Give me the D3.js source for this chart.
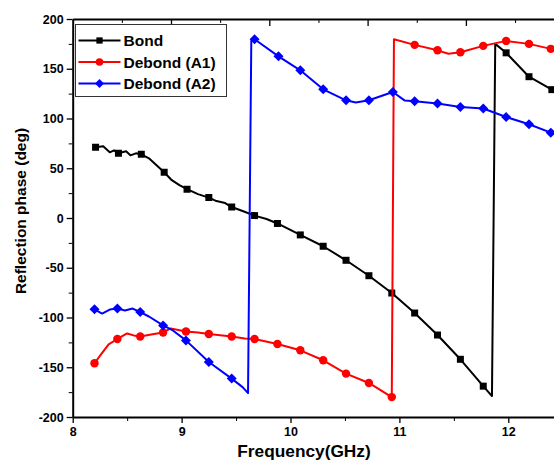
<!DOCTYPE html>
<html>
<head>
<meta charset="utf-8">
<script src="https://cdn.jsdelivr.net/npm/d3@7"></script>
<style>
  body { margin: 0; background: #fff; }
  svg { display: block; font-family: "Liberation Sans", Arial, sans-serif; }
</style>
</head>
<body>
<div class="chart"></div>
<script>
// series: marker points and extra line points (GHz, deg)
const bondMarks = [[8.21,71],[8.42,65],[8.63,64],[8.84,46],[9.05,29],[9.25,20.5],[9.46,11],[9.67,2.4],
  [9.88,-5.5],[10.09,-17],[10.30,-28.4],[10.51,-42.5],[10.72,-58],[10.93,-75.4],[11.14,-95.5],
  [11.35,-117.6],[11.56,-142],[11.77,-169],[11.98,166],[12.19,142],[12.40,129]];
const bondExtra = [[8.28,72],[8.34,66],[8.38,68],[8.49,67],[8.53,63],[8.58,65],[8.70,60],[8.77,53],
  [8.91,38],[8.98,33],[9.15,24],[9.32,17],[9.40,15],[9.56,7],[9.78,-1],[11.85,-179],[11.88,175],[12.5,124]];

const a1Marks = [[8.20,-146],[8.41,-121.6],[8.62,-119],[8.83,-115],[9.04,-114],[9.25,-116.5],[9.46,-119],
  [9.67,-121.6],[9.88,-126.6],[10.09,-133],[10.30,-143],[10.51,-156.4],[10.72,-165.8],[10.93,-180],
  [11.14,174],[11.35,168.5],[11.56,166.5],[11.77,173],[11.98,178],[12.19,175],[12.39,170]];
const a1Extra = [[8.26,-137],[8.33,-127],[8.50,-116],[8.56,-118],[8.72,-117],[8.90,-111],[9.15,-115],
  [9.58,-121],[10.95,179.6],[11.45,165],[12.5,169]];

const a2Marks = [[8.20,-91.8],[8.41,-91],[8.62,-94.5],[8.83,-108],[9.04,-123],[9.25,-144.7],[9.46,-161.4],
  [9.67,179.6],[9.89,162.5],[10.09,148.4],[10.30,129.3],[10.51,118.3],[10.72,118.3],[10.94,126.6],
  [11.14,117.3],[11.35,115],[11.56,111.6],[11.77,110],[11.98,101.5],[12.19,94.2],[12.39,85.8]];
const a2Extra = [[8.27,-96],[8.34,-92],[8.48,-93],[8.55,-91],[8.70,-99],[8.92,-113],[9.56,-170],
  [9.61,-176],[9.64,178],[10.60,116],[11.05,118],[12.5,83]];

const seriesNames = ['Bond', 'Debond (A1)', 'Debond (A2)'];
const seriesColors = ['#000000', '#ff0000', '#0000ff'];
const xTicks = [8, 9, 10, 11, 12];
const yTicks = [-200, -150, -100, -50, 0, 50, 100, 150, 200];

const width = 554, height = 462;
const margin = {top: 19, right: 0, bottom: 45, left: 72.7};

const svg = d3.select('.chart')
  .append('svg')
  .attr('width', width)
  .attr('height', height);

const scaleX = d3.scaleLinear()
  .domain([8, 8 + (width - margin.left) / 108.9])
  .range([margin.left, width]);

const scaleY = d3.scaleLinear()
  .domain([-200, 200])
  .range([height - margin.bottom, margin.top]);

// the top axis in the original has its own spacing
const scaleTop = d3.scaleLinear()
  .domain([0, (width - margin.left) / 98.3])
  .range([margin.left, width]);

svg.append('clipPath').attr('id', 'plot')
  .append('rect')
  .attr('x', margin.left).attr('y', 0)
  .attr('width', width - margin.left).attr('height', height);

function styleAxis(g) {
  g.select('.domain').attr('stroke-width', 2);
  g.selectAll('.tick line').attr('stroke-width', 1.3);
  g.selectAll('text').attr('font-weight', 'bold').attr('font-size', 12.5)
    .attr('font-family', '"Liberation Sans", Arial, sans-serif').attr('fill', '#000');
}

// minor ticks
svg.append('g')
  .attr('transform', `translate(0, ${scaleY(-200)})`)
  .call(d3.axisBottom(scaleX).tickValues(d3.range(8.5, 12.5, 1)).tickSize(4).tickFormat(''))
  .call(g => g.select('.domain').remove());
svg.append('g')
  .attr('transform', `translate(${margin.left}, 0)`)
  .call(d3.axisLeft(scaleY).tickValues(d3.range(-175, 200, 50)).tickSize(4).tickFormat(''))
  .call(g => g.select('.domain').remove());

svg.append('g')
  .attr('transform', `translate(0, ${scaleY(-200)})`)
  .call(d3.axisBottom(scaleX).tickValues(xTicks).tickSize(6).tickPadding(4).tickSizeOuter(0)
    .tickFormat(d => String(d)))
  .call(styleAxis);

svg.append('g')
  .attr('transform', `translate(${margin.left}, 0)`)
  .call(d3.axisLeft(scaleY).tickValues(yTicks).tickSize(6).tickPadding(3).tickSizeOuter(0)
    .tickFormat(d => String(d)))
  .call(styleAxis);

svg.append('g')
  .attr('transform', `translate(0, ${scaleY(200)})`)
  .call(d3.axisBottom(scaleTop).tickValues(d3.range(1, 5, 1)).tickSize(7).tickFormat('').tickSizeOuter(0))
  .call(styleAxis);
svg.append('g')
  .attr('transform', `translate(0, ${scaleY(200)})`)
  .call(d3.axisBottom(scaleTop).tickValues(d3.range(0.5, 5, 1)).tickSize(4).tickFormat(''))
  .call(g => g.select('.domain').remove());

// axis titles
svg.append('text')
  .attr('x', 304).attr('y', 457)
  .attr('text-anchor', 'middle')
  .attr('font-weight', 'bold').attr('font-size', 17.3)
  .text('Frequency(GHz)');

svg.append('text')
  .attr('transform', `translate(26, 211) rotate(-90)`)
  .attr('text-anchor', 'middle')
  .attr('font-weight', 'bold').attr('font-size', 15.5)
  .text('Reflection phase (deg)');

const allSeries = [
  {marks: bondMarks, extra: bondExtra},
  {marks: a1Marks, extra: a1Extra},
  {marks: a2Marks, extra: a2Extra}
];

// square, circle, diamond (a square turned 45 degrees)
function marker(sel, i, scale) {
  if (i === 0) {
    sel.attr('d', d3.symbol().type(d3.symbolSquare).size(49 * scale));
  } else if (i === 1) {
    sel.attr('d', d3.symbol().type(d3.symbolCircle).size(56 * scale));
  } else {
    sel.attr('d', d3.symbol().type(d3.symbolSquare).size(50 * scale));
  }
}

const line = d3.line().x(d => scaleX(d[0])).y(d => scaleY(d[1]));
const plot = svg.append('g').attr('clip-path', 'url(#plot)');

allSeries.forEach((s, i) => {
  const pts = s.marks.concat(s.extra).sort((a, b) => a[0] - b[0]);
  plot.append('path')
    .datum(pts)
    .attr('d', line)
    .attr('fill', 'none')
    .attr('stroke', seriesColors[i])
    .attr('stroke-width', 2)
    .attr('stroke-linejoin', 'round');
  plot.append('g')
    .selectAll('path')
    .data(s.marks)
    .join('path')
    .attr('transform', d => `translate(${scaleX(d[0])}, ${scaleY(d[1])})` + (i === 2 ? ' rotate(45)' : ''))
    .call(marker, i, 1)
    .attr('fill', seriesColors[i]);
});

// legend
const legend = svg.append('g').attr('transform', 'translate(75.5, 24.5)');
legend.append('rect')
  .attr('width', 151).attr('height', 72)
  .attr('fill', '#fff').attr('stroke', '#333').attr('stroke-width', 1);
seriesNames.forEach((name, i) => {
  const y = 16 + i * 21.5;
  legend.append('line')
    .attr('x1', 3).attr('x2', 45).attr('y1', y).attr('y2', y)
    .attr('stroke', seriesColors[i]).attr('stroke-width', 2);
  legend.append('path')
    .attr('transform', `translate(24, ${y})` + (i === 2 ? ' rotate(45)' : ''))
    .call(marker, i, 0.8)
    .attr('fill', seriesColors[i]);
  legend.append('text')
    .attr('x', 48).attr('y', y + 5.5)
    .attr('font-weight', 'bold').attr('font-size', 15.5)
    .text(name);
});
</script>
</body>
</html>
